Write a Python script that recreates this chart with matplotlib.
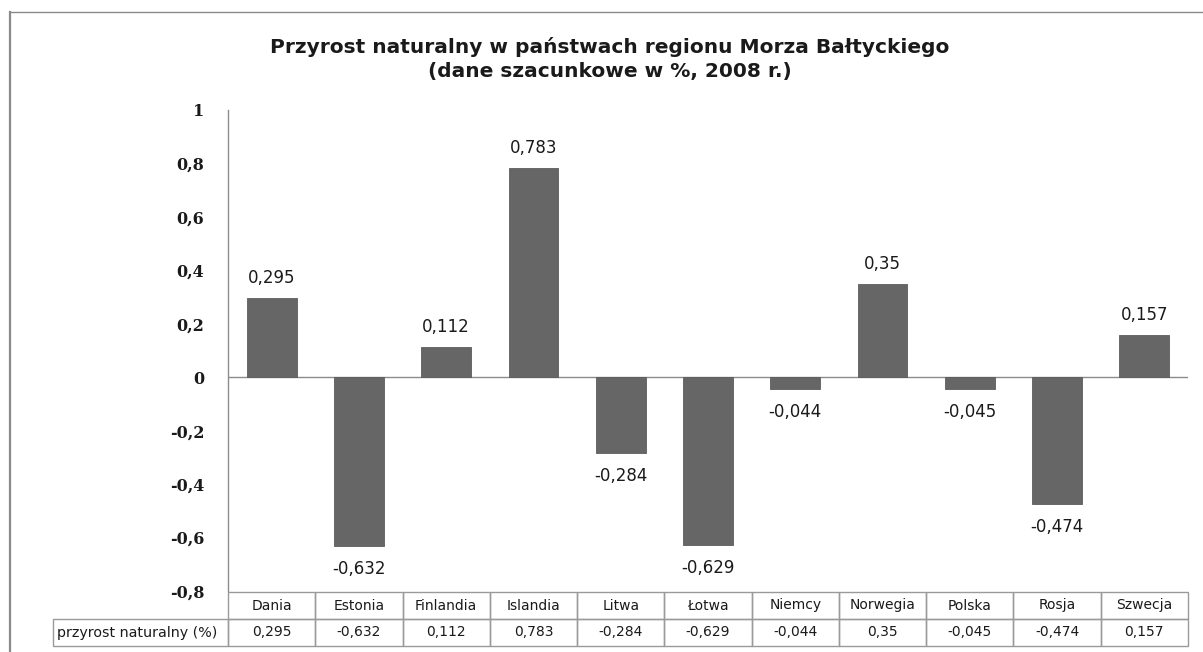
import matplotlib
matplotlib.use("Agg")
import matplotlib.pyplot as plt
from matplotlib.ticker import FuncFormatter, MultipleLocator
from matplotlib.lines import Line2D
from matplotlib.patches import Rectangle

categories = ["Dania", "Estonia", "Finlandia", "Islandia", "Litwa", "Łotwa",
              "Niemcy", "Norwegia", "Polska", "Rosja", "Szwecja"]
values = [0.295, -0.632, 0.112, 0.783, -0.284, -0.629, -0.044, 0.35, -0.045, -0.474, 0.157]
series_name = "przyrost naturalny (%)"
title = "Przyrost naturalny w państwach regionu Morza Bałtyckiego\n(dane szacunkowe w %, 2008 r.)"


def pl(v):
    return ("{:g}".format(round(v, 6))).replace(".", ",")


W, H = 1203, 652
fig = plt.figure(figsize=(W / 100, H / 100), dpi=100)
ax_l, ax_r, ax_t, ax_b = 228, 1188, 110, 591
ax = fig.add_axes([ax_l / W, 1 - ax_b / H, (ax_r - ax_l) / W, (ax_b - ax_t) / H])

n = len(categories)
x = list(range(n))
ax.bar(x, values, width=0.57, color="#666666", edgecolor="#5c5c5c", linewidth=0.6, zorder=3)
ax.set_xlim(-0.5, n - 0.5)
ax.set_ylim(-0.8, 1.0)
ax.yaxis.set_major_locator(MultipleLocator(0.2))
ax.yaxis.set_major_formatter(FuncFormatter(lambda v, p: pl(v)))
ax.set_xticks([])
ax.tick_params(axis="y", length=0, pad=17)
for lab in ax.get_yticklabels():
    lab.set_fontfamily("DejaVu Serif")
    lab.set_fontweight("bold")
    lab.set_fontsize(11.5)
    lab.set_color("#1a1a1a")
for s in ["top", "right", "bottom"]:
    ax.spines[s].set_visible(False)
ax.spines["left"].set_color("#8c8c8c")
ax.spines["left"].set_linewidth(1.0)
ax.axhline(0, color="#8c8c8c", linewidth=1.0, zorder=2)

for xi, v in zip(x, values):
    if v >= 0:
        ax.annotate(pl(v), (xi, v), xytext=(0, 8), textcoords="offset points",
                    ha="center", va="bottom", fontsize=12, family="DejaVu Sans", color="#1a1a1a")
    else:
        ax.annotate(pl(v), (xi, v), xytext=(0, -10), textcoords="offset points",
                    ha="center", va="top", fontsize=12, family="DejaVu Sans", color="#1a1a1a")

# data table (drawn in axes coordinates below the plot)
ax_w = ax_r - ax_l
ax_h = ax_b - ax_t
row_top, row_mid, row_bot = 592, 619, 646
y_top = -(row_top - ax_b) / ax_h
y_mid = -(row_mid - ax_b) / ax_h
y_bot = -(row_bot - ax_b) / ax_h
lab_x0 = -(ax_l - 53) / ax_w
edge = "#9a9a9a"
tkw = dict(transform=ax.transAxes, fontsize=10, family="DejaVu Sans", color="#1a1a1a",
           clip_on=False)
for i, (cat, v) in enumerate(zip(categories, values)):
    x0 = i / n
    for yb, yt in [(y_mid, y_top), (y_bot, y_mid)]:
        ax.add_patch(Rectangle((x0, yb), 1 / n, yt - yb, transform=ax.transAxes,
                               facecolor="none", edgecolor=edge, linewidth=1.0, clip_on=False))
    ax.text(x0 + 0.5 / n, (y_top + y_mid) / 2, cat, ha="center", va="center", **tkw)
    ax.text(x0 + 0.5 / n, (y_mid + y_bot) / 2, pl(v), ha="center", va="center", **tkw)
ax.add_patch(Rectangle((lab_x0, y_bot), -lab_x0, y_mid - y_bot, transform=ax.transAxes,
                       facecolor="none", edgecolor=edge, linewidth=1.0, clip_on=False))
ax.text(lab_x0 + 4 / ax_w, (y_mid + y_bot) / 2, series_name, ha="left", va="center",
        **dict(tkw, fontsize=10.3))

fig.text(610 / W, 1 - 59 / H, title, ha="center", va="center", fontsize=14.5,
         fontweight="bold", family="DejaVu Sans", color="#1a1a1a", linespacing=1.3)

# outer chart frame
fig.add_artist(Line2D([10 / W, 1], [1 - 12 / H, 1 - 12 / H], transform=fig.transFigure,
                      color="#8a8a8a", linewidth=1.0))
fig.add_artist(Line2D([10 / W, 10 / W], [0, 1 - 12 / H], transform=fig.transFigure,
                      color="#8a8a8a", linewidth=1.6))

fig.savefig("out.png", dpi=100)
